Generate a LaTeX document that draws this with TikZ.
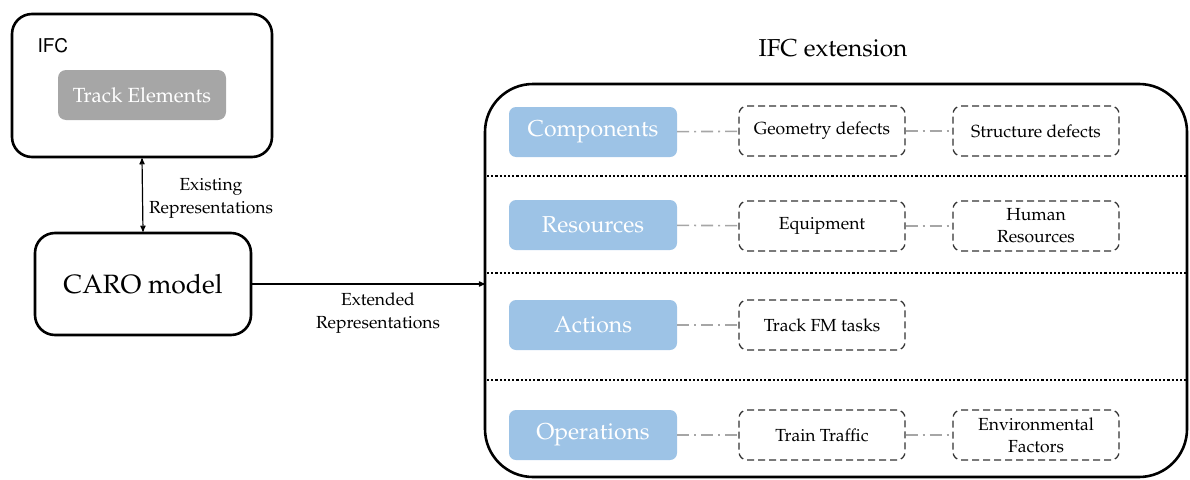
\documentclass[tikz,border=0pt]{standalone}
\usepackage[T1]{fontenc}
\usepackage{mathpazo}
\usetikzlibrary{positioning, arrows, shapes}
\definecolor{boxblue}{HTML}{9DC3E6}
\definecolor{boxgray}{HTML}{A6A6A6}
\definecolor{linegray}{HTML}{A6A6A6}
\tikzset{
	>=stealth', % bold arrow heads
	outer box/.style={
		draw=black,
		line width=2.6pt,
		rounded corners=20pt,
	},
	gray box/.style={
		fill=boxgray,
		text=white,
		rounded corners=8pt,
		minimum width=168pt,
		minimum height=50pt,
		font=\fontsize{20.5}{24}\selectfont,
	},
	blue box/.style={
		fill=boxblue,
		text=white,
		rounded corners=7pt,
		minimum width=168pt,
		minimum height=50pt,
		font=\fontsize{23}{26}\selectfont,
	},
	dashed box/.style={
		draw=black!80,
		dash pattern=on 7pt off 4pt,
		line width=1.3pt,
		rounded corners=8pt,
		minimum width=166pt,
		minimum height=50pt,
		align=center,
		font=\fontsize{17.5}{22}\selectfont,
	},
	link/.style={
		draw=linegray,
		dash pattern=on 12pt off 5pt on 2pt off 5pt,
		line width=1.6pt,
	},
	rep label/.style={
		align=center,
		font=\fontsize{17.5}{23}\selectfont,
	},
	separator/.style={
		line width=2.2pt,
		dotted,
	},
}

\begin{document}
\begin{tikzpicture}[x=1pt, y=-1pt]
	\useasboundingbox (0,0) rectangle (1190,479);

	% left side
	\node [outer box, minimum width=260pt, minimum height=143pt] (ifc) at (142,85.5) {};
	\node [anchor=west, font=\fontfamily{phv}\fontsize{19}{22}\selectfont] (ifclabel) at (34,46) {IFC};
	\node [gray box] (track) at (142,95) {Track Elements};
	\node [outer box, minimum width=216pt, minimum height=102pt,
		font=\fontsize{26.5}{30}\selectfont] (caro) at (143,284) {CARO model};

	\draw [<->, line width=1.2pt] (ifc.south) -- (caro.north);
	\node [rep label] (existing) at (211,198) {Existing\\Representations};

	% extension frame
	\node [font=\fontsize{24.5}{28}\selectfont] (exttitle) at (833,48) {IFC extension};
	\draw [line width=2.6pt, rounded corners=48pt] (485,84) rectangle (1187,477);
	\coordinate (ext) at (485,284);
	\draw [->, line width=1.2pt] (caro.east) -- (ext);
	\node [rep label] (extended) at (378,313) {Extended\\Representations};

	\draw [separator] (487,176) -- (1186,176);
	\draw [separator] (487,273) -- (1186,273);
	\draw [separator] (487,380) -- (1186,380);

	% rows
	\node [blue box] (comp) at (593,132) {Components};
	\node [dashed box] (geom) at (822,131) {Geometry defects};
	\node [dashed box] (struct) at (1036,131) {Structure defects};

	\node [blue box] (res) at (593,225) {Resources};
	\node [dashed box] (equip) at (822,226) {Equipment};
	\node [dashed box] (human) at (1036,226) {Human\\Resources};

	\node [blue box] (act) at (593,325) {Actions};
	\node [dashed box] (fm) at (822,325) {Track FM tasks};

	\node [blue box] (oper) at (593,435) {Operations};
	\node [dashed box] (train) at (822,435) {Train Traffic};
	\node [dashed box] (env) at (1036,435) {Environmental\\Factors};

	\draw [link] (comp) -- (geom);
	\draw [link] (geom) -- (struct);
	\draw [link] (res) -- (equip);
	\draw [link] (equip) -- (human);
	\draw [link] (act) -- (fm);
	\draw [link] (oper) -- (train);
	\draw [link] (train) -- (env);
\end{tikzpicture}
\end{document}
